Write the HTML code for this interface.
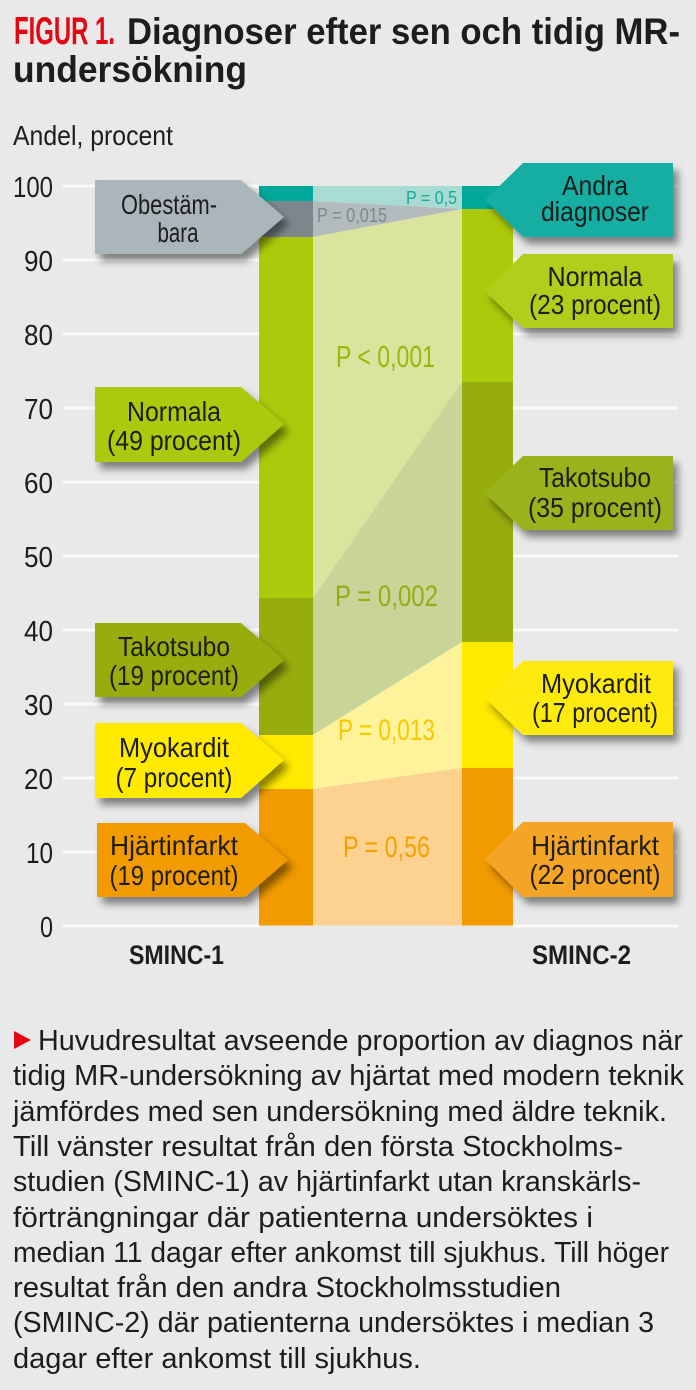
<!DOCTYPE html>
<html><head><meta charset="utf-8">
<style>
html,body{margin:0;padding:0;background:#e9e9e9;}
svg{display:block;}
text{font-family:"Liberation Sans Narrow","Liberation Sans",sans-serif;}
.t{font-family:"Liberation Sans",sans-serif;}
</style></head><body>
<svg width="696" height="1390" viewBox="0 0 696 1390" xmlns="http://www.w3.org/2000/svg">
<defs>
<filter id="sh" x="-20%" y="-30%" width="150%" height="180%">
<feDropShadow dx="5" dy="7" stdDeviation="4" flood-color="#000" flood-opacity="0.45"/>
</filter>
</defs>
<rect width="696" height="1390" fill="#e9e9e9"/>

<!-- Title -->
<text x="14" y="44" font-size="39" font-weight="bold" fill="#e30613" textLength="101" lengthAdjust="spacingAndGlyphs">FIGUR 1.</text>
<text class="t" x="127" y="44" font-size="37" font-weight="bold" fill="#1d1d1b" textLength="553" lengthAdjust="spacingAndGlyphs">Diagnoser efter sen och tidig MR-</text>
<text class="t" x="13" y="82" font-size="37" font-weight="bold" fill="#1d1d1b" textLength="234" lengthAdjust="spacingAndGlyphs">undersökning</text>

<text x="13" y="145" font-size="28" fill="#1d1d1b" textLength="160" lengthAdjust="spacingAndGlyphs">Andel, procent</text>

<!-- gridlines -->
<g stroke="#fbfbfb" stroke-width="3">
<line x1="63" y1="186" x2="259" y2="186"/><line x1="513" y1="186" x2="678" y2="186"/>
<line x1="63" y1="260" x2="259" y2="260"/><line x1="513" y1="260" x2="678" y2="260"/>
<line x1="63" y1="334" x2="259" y2="334"/><line x1="513" y1="334" x2="678" y2="334"/>
<line x1="63" y1="408" x2="259" y2="408"/><line x1="513" y1="408" x2="678" y2="408"/>
<line x1="63" y1="482" x2="259" y2="482"/><line x1="513" y1="482" x2="678" y2="482"/>
<line x1="63" y1="556" x2="259" y2="556"/><line x1="513" y1="556" x2="678" y2="556"/>
<line x1="63" y1="630" x2="259" y2="630"/><line x1="513" y1="630" x2="678" y2="630"/>
<line x1="63" y1="704" x2="259" y2="704"/><line x1="513" y1="704" x2="678" y2="704"/>
<line x1="63" y1="778" x2="259" y2="778"/><line x1="513" y1="778" x2="678" y2="778"/>
<line x1="63" y1="852" x2="259" y2="852"/><line x1="513" y1="852" x2="678" y2="852"/>
<line x1="63" y1="926" x2="259" y2="926"/><line x1="513" y1="926" x2="678" y2="926"/>
</g>

<!-- tick labels -->
<g font-size="29" fill="#1d1d1b" text-anchor="end">
<text x="53" y="197" textLength="40" lengthAdjust="spacingAndGlyphs">100</text>
<text x="53" y="271" textLength="29" lengthAdjust="spacingAndGlyphs">90</text>
<text x="53" y="345" textLength="29" lengthAdjust="spacingAndGlyphs">80</text>
<text x="53" y="419" textLength="29" lengthAdjust="spacingAndGlyphs">70</text>
<text x="53" y="493" textLength="29" lengthAdjust="spacingAndGlyphs">60</text>
<text x="53" y="567" textLength="29" lengthAdjust="spacingAndGlyphs">50</text>
<text x="53" y="641" textLength="29" lengthAdjust="spacingAndGlyphs">40</text>
<text x="53" y="715" textLength="29" lengthAdjust="spacingAndGlyphs">30</text>
<text x="53" y="789" textLength="29" lengthAdjust="spacingAndGlyphs">20</text>
<text x="53" y="863" textLength="27" lengthAdjust="spacingAndGlyphs">10</text>
<text x="53" y="937" textLength="13" lengthAdjust="spacingAndGlyphs">0</text>
</g>

<!-- ribbons -->
<polygon points="313,186 462,186 462,209 313,201" fill="#a7dbd4"/>
<polygon points="313,201 462,209 313,237" fill="#b3bbbd"/>
<polygon points="313,237 462,209 462,382 313,598" fill="#dbe49c"/>
<polygon points="313,598 462,382 462,642 313,735" fill="#c9d598"/>
<polygon points="313,735 462,642 462,768 313,789" fill="#fef39b"/>
<polygon points="313,789 462,768 462,925.5 313,925.5" fill="#fdd18f"/>

<!-- left bar -->
<rect x="259" y="186" width="54" height="15" fill="#00a79b"/>
<rect x="259" y="201" width="54" height="36" fill="#7c878d"/>
<rect x="259" y="237" width="54" height="361" fill="#adc90b"/>
<rect x="259" y="598" width="54" height="137" fill="#97ad0e"/>
<rect x="259" y="735" width="54" height="54" fill="#ffea00"/>
<rect x="259" y="789" width="54" height="136.5" fill="#f29b00"/>

<!-- right bar -->
<rect x="462" y="186" width="51" height="23" fill="#00a79b"/>
<rect x="462" y="209" width="51" height="173" fill="#adc90b"/>
<rect x="462" y="382" width="51" height="260" fill="#97ad0e"/>
<rect x="462" y="642" width="51" height="126" fill="#ffea00"/>
<rect x="462" y="768" width="51" height="157.5" fill="#f29b00"/>

<!-- P labels -->
<text x="406" y="204" font-size="18" fill="#17a99b" textLength="51" lengthAdjust="spacingAndGlyphs">P = 0,5</text>
<text x="317" y="222" font-size="20" fill="#7f888d" textLength="70" lengthAdjust="spacingAndGlyphs">P = 0,015</text>
<text x="336" y="367" font-size="31" fill="#9bb70e" textLength="99" lengthAdjust="spacingAndGlyphs">P &lt; 0,001</text>
<text x="335" y="606" font-size="30" fill="#94ad14" textLength="103" lengthAdjust="spacingAndGlyphs">P = 0,002</text>
<text x="338" y="740" font-size="30" fill="#f7c800" textLength="97" lengthAdjust="spacingAndGlyphs">P = 0,013</text>
<text x="343" y="857" font-size="30" fill="#f5a200" textLength="87" lengthAdjust="spacingAndGlyphs">P = 0,56</text>

<!-- left label boxes -->
<g filter="url(#sh)">
<polygon points="95,180 241,180 284,217 241,254 95,254" fill="#aab5bc"/>
<polygon points="95,387 241,387 284,424 241,462 95,462" fill="#adc90b"/>
<polygon points="95,623 241,623 284,660 241,697 95,697" fill="#97ad0e"/>
<polygon points="95,723 241,723 284,760 241,798 95,798" fill="#ffea00"/>
<polygon points="97,823 245,823 288,860 245,897 97,897" fill="#f29b00"/>
</g>
<!-- right label boxes -->
<g filter="url(#sh)">
<polygon points="673,163 523,163 485,200 523,237 673,237" fill="#13ada2"/>
<polygon points="673,254 523,254 485,291 523,328 673,328" fill="#b3cd1a"/>
<polygon points="673,456 523,456 485,493 523,530 673,530" fill="#9ab21b"/>
<polygon points="673,661 523,661 485,698 523,735 673,735" fill="#ffea0a"/>
<polygon points="673,822 523,822 485,859 523,897 673,897" fill="#f5a526"/>
</g>

<!-- box texts -->
<g font-size="28" fill="#1d1d1b" text-anchor="middle">
<text x="169" y="214" textLength="96" lengthAdjust="spacingAndGlyphs">Obestäm-</text>
<text x="178" y="242" textLength="41" lengthAdjust="spacingAndGlyphs">bara</text>
<text x="174" y="421" textLength="94" lengthAdjust="spacingAndGlyphs">Normala</text>
<text x="174" y="450" textLength="134" lengthAdjust="spacingAndGlyphs">(49 procent)</text>
<text x="174" y="656" textLength="112" lengthAdjust="spacingAndGlyphs">Takotsubo</text>
<text x="174" y="685" textLength="130" lengthAdjust="spacingAndGlyphs">(19 procent)</text>
<text x="174" y="757" textLength="110" lengthAdjust="spacingAndGlyphs">Myokardit</text>
<text x="174" y="787" textLength="117" lengthAdjust="spacingAndGlyphs">(7 procent)</text>
<text x="174" y="855" textLength="128" lengthAdjust="spacingAndGlyphs">Hjärtinfarkt</text>
<text x="174" y="885" textLength="129" lengthAdjust="spacingAndGlyphs">(19 procent)</text>

<text x="595" y="195" textLength="66" lengthAdjust="spacingAndGlyphs">Andra</text>
<text x="595" y="221" textLength="108" lengthAdjust="spacingAndGlyphs">diagnoser</text>
<text x="595" y="286" textLength="95" lengthAdjust="spacingAndGlyphs">Normala</text>
<text x="595" y="314" textLength="132" lengthAdjust="spacingAndGlyphs">(23 procent)</text>
<text x="595" y="487" textLength="112" lengthAdjust="spacingAndGlyphs">Takotsubo</text>
<text x="595" y="517" textLength="134" lengthAdjust="spacingAndGlyphs">(35 procent)</text>
<text x="596" y="693" textLength="110" lengthAdjust="spacingAndGlyphs">Myokardit</text>
<text x="595" y="722" textLength="126" lengthAdjust="spacingAndGlyphs">(17 procent)</text>
<text x="595" y="855" textLength="128" lengthAdjust="spacingAndGlyphs">Hjärtinfarkt</text>
<text x="595" y="884" textLength="131" lengthAdjust="spacingAndGlyphs">(22 procent)</text>
</g>

<!-- x labels -->
<text x="176.5" y="964" font-size="27" font-weight="bold" fill="#1d1d1b" text-anchor="middle" textLength="95" lengthAdjust="spacingAndGlyphs">SMINC-1</text>
<text x="581.5" y="964" font-size="27" font-weight="bold" fill="#1d1d1b" text-anchor="middle" textLength="99" lengthAdjust="spacingAndGlyphs">SMINC-2</text>

<!-- caption -->
<polygon points="14,1031 31,1040 14,1049" fill="#e30613"/>
<g font-size="29" fill="#1d1d1b">
<text x="38" y="1050" textLength="645" lengthAdjust="spacingAndGlyphs">Huvudresultat avseende proportion av diagnos när</text>
<text x="13" y="1085" textLength="671" lengthAdjust="spacingAndGlyphs">tidig MR-undersökning av hjärtat med modern teknik</text>
<text x="13" y="1121" textLength="654" lengthAdjust="spacingAndGlyphs">jämfördes med sen undersökning med äldre teknik.</text>
<text x="13" y="1156" textLength="610" lengthAdjust="spacingAndGlyphs">Till vänster resultat från den första Stockholms-</text>
<text x="13" y="1191" textLength="628" lengthAdjust="spacingAndGlyphs">studien (SMINC-1) av hjärtinfarkt utan kranskärls-</text>
<text x="13" y="1227" textLength="580" lengthAdjust="spacingAndGlyphs">förträngningar där patienterna undersöktes i</text>
<text x="13" y="1262" textLength="656" lengthAdjust="spacingAndGlyphs">median 11 dagar efter ankomst till sjukhus. Till höger</text>
<text x="13" y="1297" textLength="548" lengthAdjust="spacingAndGlyphs">resultat från den andra Stockholmsstudien</text>
<text x="13" y="1332" textLength="641" lengthAdjust="spacingAndGlyphs">(SMINC-2) där patienterna undersöktes i median 3</text>
<text x="13" y="1368" textLength="408" lengthAdjust="spacingAndGlyphs">dagar efter ankomst till sjukhus.</text>
</g>
</svg>
</body></html>
